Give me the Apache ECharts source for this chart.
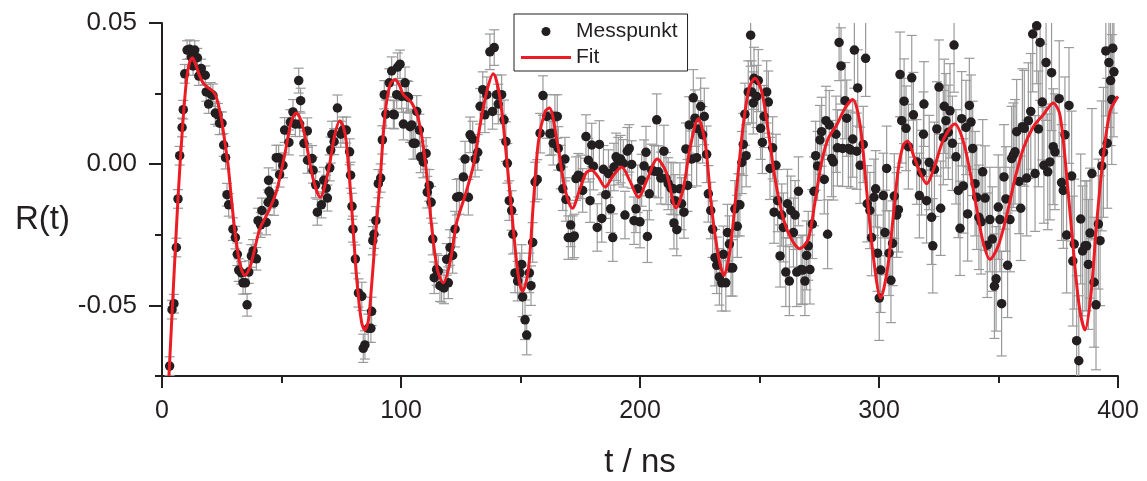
<!DOCTYPE html>
<html><head><meta charset="utf-8">
<script src="https://cdn.jsdelivr.net/npm/echarts@6/dist/echarts.min.js"></script>
<style>html,body{margin:0;padding:0;background:#fff}#c{width:1147px;height:481px}</style>
</head><body><div id="c"></div>
<script>
// ---- data ----
const xTickValues = [0, 100, 200, 300, 400];
const yTickValues = [-0.05, 0, 0.05];
const yTickLabels = ['-0.05', '0.00', '0.05'];
const yMinorTickValues = [-0.075, -0.025, 0.025];
const xTitle = 't / ns';
const yTitle = 'R(t)';
const seriesNames = ['Messpunkt', 'Fit'];

// measured points: [t (ns), R(t), error half-length]
const measured = [
[3.2,-0.0715,0.0033],[4.2,-0.0515,0.0033],[5.0,-0.0494,0.0033],[6.0,-0.0295,0.0033],[6.7,-0.0123,0.0033],
[7.4,0.0030,0.0033],[8.4,0.0130,0.0033],[8.9,0.0193,0.0033],[9.5,0.0320,0.0033],[10.5,0.0404,0.0033],
[11.6,0.0407,0.0033],[12.3,0.0380,0.0033],[13.0,0.0348,0.0033],[13.7,0.0404,0.0033],[14.8,0.0377,0.0033],
[15.4,0.0312,0.0033],[16.4,0.0339,0.0033],[18.1,0.0315,0.0033],[18.5,0.0256,0.0033],[19.5,0.0213,0.0033],
[20.4,0.0249,0.0040],[21.3,0.0244,0.0040],[22.3,0.0181,0.0040],[23.4,0.0175,0.0040],[24.1,0.0145,0.0040],
[25.1,0.0145,0.0040],[25.8,0.0068,0.0040],[26.6,0.0023,0.0040],[27.2,-0.0108,0.0040],[27.9,-0.0144,0.0040],
[29.7,-0.0230,0.0040],[30.7,-0.0260,0.0040],[31.5,-0.0319,0.0040],[32.1,-0.0375,0.0040],[33.2,-0.0385,0.0040],
[33.9,-0.0420,0.0040],[34.9,-0.0420,0.0040],[35.6,-0.0498,0.0040],[36.3,-0.0382,0.0040],[37.4,-0.0325,0.0040],
[38.1,-0.0307,0.0040],[39.5,-0.0335,0.0040],[40.2,-0.0200,0.0044],[41.3,-0.0215,0.0044],[41.8,-0.0164,0.0044],
[43.6,-0.0206,0.0044],[44.4,-0.0135,0.0044],[44.6,-0.0057,0.0044],[44.8,-0.0096,0.0044],[45.7,-0.0111,0.0044],
[46.9,-0.0137,0.0044],[47.8,0.0023,0.0044],[48.8,0.0023,0.0044],[49.2,-0.0037,0.0044],[50.6,-0.0004,0.0044],
[51.3,0.0121,0.0044],[53.1,0.0077,0.0044],[53.7,0.0149,0.0044],[54.8,0.0185,0.0044],[55.8,0.0142,0.0044],
[57.2,0.0296,0.0044],[57.6,0.0142,0.0044],[58.0,0.0225,0.0044],[59.4,0.0074,0.0044],[60.8,0.0118,0.0046],
[60.9,0.0014,0.0046],[62.8,0.0020,0.0046],[63.2,-0.0021,0.0046],[64.3,-0.0073,0.0046],[65.0,-0.0170,0.0046],
[66.7,-0.0144,0.0046],[67.7,-0.0057,0.0046],[68.7,-0.0085,0.0046],[69.2,-0.0120,0.0046],[70.2,-0.0013,0.0046],
[70.6,0.0050,0.0046],[71.1,0.0106,0.0046],[72.0,0.0080,0.0046],[73.4,0.0199,0.0046],[74.8,0.0106,0.0046],
[75.7,0.0121,0.0046],[77.1,0.0121,0.0046],[78.5,0.0044,0.0046],[78.9,-0.0039,0.0046],[79.5,-0.0149,0.0046],
[79.9,-0.0230,0.0046],[80.9,-0.0336,0.0050],[82.2,-0.0456,0.0050],[83.6,-0.0468,0.0050],[84.2,-0.0652,0.0050],
[84.9,-0.0640,0.0050],[86.3,-0.0581,0.0050],[87.4,-0.0581,0.0050],[87.7,-0.0521,0.0050],[88.2,-0.0271,0.0050],
[88.7,-0.0248,0.0050],[89.5,-0.0200,0.0050],[90.5,-0.0069,0.0050],[91.5,-0.0049,0.0050],[92.2,0.0086,0.0050],
[93.0,0.0246,0.0050],[93.7,0.0177,0.0050],[95.1,0.0288,0.0050],[96.1,0.0330,0.0050],[96.8,0.0177,0.0050],
[97.2,0.0175,0.0050],[98.2,0.0246,0.0050],[98.6,0.0344,0.0050],[99.6,0.0354,0.0050],[100.3,0.0240,0.0056],
[101.0,0.0142,0.0056],[101.7,0.0288,0.0056],[102.4,0.0240,0.0056],[103.1,0.0237,0.0056],[103.8,0.0133,0.0056],
[104.5,0.0139,0.0056],[105.1,0.0074,0.0056],[105.9,0.0074,0.0056],[106.6,0.0187,0.0056],[107.7,0.0121,0.0056],
[108.2,0.0026,0.0056],[109.3,0.0008,0.0056],[110.5,0.0038,0.0056],[111.0,-0.0099,0.0056],[111.8,-0.0075,0.0056],
[112.6,-0.0135,0.0056],[113.3,-0.0265,0.0056],[113.9,-0.0402,0.0056],[114.9,-0.0373,0.0056],[115.6,-0.0379,0.0056],
[116.3,-0.0430,0.0056],[117.0,-0.0432,0.0056],[118.0,-0.0438,0.0056],[119.1,-0.0337,0.0056],[119.8,-0.0420,0.0056],
[120.5,-0.0295,0.0063],[121.6,-0.0323,0.0063],[122.6,-0.0230,0.0063],[123.3,-0.0117,0.0063],[124.4,-0.0114,0.0063],
[126.1,-0.0045,0.0063],[126.8,0.0018,0.0063],[128.2,-0.0117,0.0063],[128.9,0.0104,0.0063],[130.0,0.0089,0.0063],
[131.0,0.0018,0.0063],[132.1,0.0042,0.0063],[133.1,0.0205,0.0063],[134.2,0.0264,0.0063],[135.1,0.0175,0.0063],
[135.9,0.0246,0.0063],[137.2,0.0398,0.0063],[138.3,0.0187,0.0063],[139.0,0.0413,0.0063],[140.0,0.0246,0.0070],
[140.7,0.0213,0.0070],[142.1,0.0246,0.0070],[143.1,0.0157,0.0070],[143.9,0.0080,0.0070],[144.5,0.0003,0.0070],
[145.3,-0.0129,0.0070],[146.3,-0.0164,0.0070],[146.8,-0.0248,0.0070],[147.7,-0.0385,0.0070],[148.8,-0.0414,0.0070],
[149.8,-0.0385,0.0070],[150.5,-0.0355,0.0070],[150.9,-0.0470,0.0070],[151.9,-0.0551,0.0070],[152.6,-0.0605,0.0070],
[153.7,-0.0385,0.0070],[154.4,-0.0430,0.0070],[155.1,-0.0277,0.0070],[156.1,-0.0063,0.0070],[157.0,-0.0054,0.0070],
[158.2,0.0110,0.0070],[159.4,0.0243,0.0070],[161.0,0.0169,0.0077],[162.3,0.0108,0.0077],[163.1,0.0110,0.0077],
[163.7,0.0074,0.0077],[164.4,0.0169,0.0077],[165.4,0.0169,0.0077],[165.8,0.0056,0.0077],[166.8,-0.0010,0.0077],
[167.7,-0.0087,0.0077],[168.6,0.0018,0.0077],[169.0,-0.0125,0.0077],[170.0,-0.0260,0.0077],[171.0,-0.0215,0.0077],
[171.8,-0.0260,0.0077],[172.5,-0.0254,0.0077],[173.2,-0.0051,0.0077],[174.2,-0.0039,0.0077],[175.2,-0.0045,0.0077],
[176.0,-0.0093,0.0077],[177.4,0.0098,0.0077],[178.4,0.0014,0.0077],[179.1,-0.0129,0.0077],[179.8,0.0068,0.0077],
[180.5,-0.0007,0.0084],[182.1,-0.0224,0.0084],[183.0,0.0070,0.0084],[184.0,-0.0192,0.0084],[184.7,-0.0018,0.0084],
[185.7,-0.0108,0.0084],[186.8,-0.0033,0.0084],[187.7,-0.0158,0.0084],[188.6,-0.0260,0.0084],[189.1,-0.0010,0.0084],
[190.0,0.0026,0.0084],[190.9,0.0011,0.0084],[191.9,0.0018,0.0084],[193.0,0.0003,0.0084],[193.7,-0.0180,0.0084],
[194.7,0.0046,0.0084],[195.5,0.0056,0.0084],[196.5,-0.0001,0.0084],[197.5,-0.0200,0.0084],[198.3,-0.0158,0.0084],
[199.0,-0.0087,0.0084],[200.0,-0.0204,0.0092],[200.7,-0.0057,0.0092],[201.7,-0.0006,0.0092],[202.5,0.0042,0.0092],
[203.1,-0.0256,0.0092],[203.9,-0.0105,0.0092],[204.9,-0.0021,0.0092],[205.9,-0.0025,0.0092],[207.0,0.0157,0.0092],
[207.7,-0.0027,0.0092],[208.7,-0.0049,0.0092],[210.0,0.0046,0.0092],[210.9,-0.0051,0.0092],[211.8,-0.0069,0.0092],
[213.0,-0.0085,0.0092],[213.9,-0.0087,0.0092],[214.2,-0.0208,0.0092],[214.6,-0.0129,0.0092],[215.4,-0.0232,0.0092],
[216.7,-0.0087,0.0092],[217.4,-0.0140,0.0092],[218.4,-0.0170,0.0092],[219.2,0.0054,0.0092],[219.9,-0.0075,0.0092],
[220.6,0.0139,0.0100],[221.6,0.0018,0.0100],[222.3,0.0235,0.0100],[223.0,0.0163,0.0100],[223.7,0.0023,0.0100],
[224.4,0.0125,0.0100],[225.4,0.0205,0.0100],[226.2,0.0104,0.0100],[226.9,0.0169,0.0100],[227.9,0.0035,0.0100],
[228.6,-0.0105,0.0100],[229.6,-0.0164,0.0100],[230.4,-0.0230,0.0100],[231.4,-0.0331,0.0100],[232.1,-0.0358,0.0100],
[233.2,-0.0399,0.0100],[234.2,-0.0420,0.0100],[234.9,-0.0319,0.0100],[235.9,-0.0420,0.0100],[236.6,-0.0242,0.0100],
[237.4,-0.0283,0.0100],[238.1,-0.0367,0.0100],[238.8,-0.0367,0.0100],[239.7,-0.0158,0.0100],[240.7,-0.0220,0.0110],
[241.1,-0.0144,0.0110],[241.8,-0.0144,0.0110],[242.6,0.0006,0.0110],[243.2,0.0070,0.0110],[243.9,0.0177,0.0110],
[244.4,0.0030,0.0110],[245.3,0.0256,0.0110],[246.3,0.0457,0.0110],[246.7,0.0256,0.0110],[247.4,0.0217,0.0110],
[247.7,0.0304,0.0110],[248.8,0.0240,0.0110],[249.5,0.0296,0.0110],[250.5,0.0127,0.0110],[251.2,0.0077,0.0110],
[251.9,0.0169,0.0110],[253.0,0.0256,0.0110],[253.7,0.0220,0.0110],[254.4,-0.0015,0.0110],[255.5,0.0058,0.0110],
[256.1,-0.0170,0.0110],[256.9,-0.0004,0.0110],[257.6,-0.0129,0.0110],[258.6,-0.0325,0.0110],[259.3,-0.0180,0.0110],
[260.0,-0.0224,0.0122],[261.0,-0.0382,0.0122],[261.7,-0.0140,0.0122],[262.5,-0.0414,0.0122],[263.1,-0.0164,0.0122],
[264.2,-0.0242,0.0122],[264.9,-0.0180,0.0122],[265.6,-0.0382,0.0122],[266.3,-0.0096,0.0122],[267.4,-0.0373,0.0122],
[268.1,-0.0375,0.0122],[269.0,-0.0414,0.0122],[269.7,-0.0323,0.0122],[270.4,-0.0289,0.0122],[271.1,-0.0373,0.0122],
[272.1,-0.0212,0.0122],[272.8,-0.0096,0.0122],[273.5,0.0030,0.0122],[274.3,-0.0006,0.0122],[275.3,0.0086,0.0122],
[276.0,0.0115,0.0122],[277.1,-0.0054,0.0122],[277.8,0.0154,0.0122],[278.5,-0.0248,0.0122],[279.2,0.0139,0.0122],
[280.2,0.0020,0.0135],[280.9,0.0008,0.0135],[282.0,0.0106,0.0135],[282.6,0.0058,0.0135],[283.3,0.0431,0.0135],
[284.1,0.0348,0.0135],[284.8,0.0056,0.0135],[285.8,0.0225,0.0135],[286.5,0.0163,0.0135],[287.2,0.0056,0.0135],
[288.2,0.0050,0.0135],[289.0,0.0089,0.0135],[289.7,0.0404,0.0135],[290.7,0.0046,0.0135],[291.1,0.0270,0.0135],
[292.1,-0.0004,0.0135],[293.4,0.0070,0.0135],[294.4,0.0375,0.0135],[295.1,-0.0140,0.0135],[296.2,-0.0164,0.0135],
[296.9,-0.0260,0.0135],[297.9,-0.0117,0.0135],[298.6,-0.0087,0.0135],[299.4,-0.0315,0.0135],[300.1,-0.0474,0.0150],
[300.7,-0.0375,0.0150],[301.8,-0.0111,0.0150],[302.5,-0.0242,0.0150],[303.2,-0.0015,0.0150],[304.2,-0.0315,0.0150],
[305.0,-0.0411,0.0150],[305.7,-0.0280,0.0150],[306.4,-0.0113,0.0150],[307.4,-0.0180,0.0150],[308.1,-0.0161,0.0150],
[308.8,0.0318,0.0150],[309.5,0.0154,0.0150],[310.5,0.0223,0.0150],[311.3,0.0127,0.0150],[312.3,0.0062,0.0150],
[313.7,0.0306,0.0150],[314.4,0.0175,0.0150],[315.8,0.0008,0.0150],[316.9,-0.0111,0.0150],[317.8,-0.0030,0.0150],
[318.6,0.0106,0.0150],[318.8,0.0213,0.0150],[319.9,-0.0129,0.0150],[321.0,0.0006,0.0167],[322.0,-0.0188,0.0167],
[322.5,-0.0289,0.0167],[323.2,-0.0018,0.0167],[324.2,0.0125,0.0167],[325.1,0.0273,0.0167],[325.8,-0.0156,0.0167],
[326.9,0.0094,0.0167],[327.3,0.0205,0.0167],[328.0,0.0154,0.0167],[329.0,0.0113,0.0167],[329.7,0.0189,0.0167],
[330.7,0.0074,0.0167],[331.4,0.0422,0.0167],[332.2,0.0026,0.0167],[333.2,-0.0093,0.0167],[333.9,-0.0227,0.0167],
[334.6,0.0161,0.0167],[335.3,-0.0077,0.0167],[336.4,0.0130,0.0167],[337.1,-0.0176,0.0167],[337.8,0.0208,0.0167],
[338.5,0.0149,0.0167],[339.2,0.0056,0.0167],[340.2,-0.0069,0.0185],[340.9,-0.0117,0.0185],[341.8,-0.0188,0.0185],
[342.7,-0.0204,0.0185],[343.4,-0.0027,0.0185],[344.4,-0.0120,0.0185],[345.3,-0.0287,0.0185],[346.4,-0.0196,0.0185],
[347.4,-0.0265,0.0185],[348.3,-0.0432,0.0185],[349.0,-0.0406,0.0185],[349.9,-0.0152,0.0185],[350.6,-0.0196,0.0185],
[351.3,-0.0494,0.0185],[352.3,-0.0045,0.0185],[353.1,-0.0123,0.0185],[353.8,-0.0358,0.0185],[354.8,-0.0196,0.0185],
[355.5,0.0020,0.0185],[356.2,0.0032,0.0185],[356.9,0.0044,0.0185],[357.6,0.0115,0.0185],[358.6,-0.0061,0.0185],
[359.3,-0.0156,0.0185],[360.0,0.0133,0.0205],[360.8,0.0127,0.0205],[361.8,-0.0049,0.0205],[362.5,0.0154,0.0205],
[363.5,0.0187,0.0205],[364.3,0.0461,0.0205],[365.3,-0.0033,0.0205],[366.0,0.0490,0.0205],[366.7,0.0125,0.0205],
[367.4,0.0431,0.0205],[368.3,0.0220,0.0205],[369.0,-0.0004,0.0205],[369.9,0.0360,0.0205],[370.6,-0.0027,0.0205],
[371.5,0.0008,0.0205],[372.2,0.0324,0.0205],[372.9,0.0062,0.0205],[373.6,0.0044,0.0205],[375.4,0.0232,0.0205],
[376.4,-0.0065,0.0205],[377.1,-0.0093,0.0205],[377.8,0.0104,0.0205],[378.5,-0.0251,0.0205],[379.5,0.0208,0.0205],
[380.6,-0.0042,0.0230],[381.1,-0.0343,0.0230],[381.7,-0.0283,0.0230],[382.7,-0.0625,0.0230],[383.6,-0.0696,0.0230],
[384.4,-0.0194,0.0230],[385.2,-0.0307,0.0230],[386.2,-0.0289,0.0230],[386.9,-0.0289,0.0230],[387.6,-0.0355,0.0230],
[388.3,-0.0244,0.0230],[389.1,-0.0033,0.0230],[390.0,-0.0418,0.0230],[390.8,-0.0498,0.0230],[391.8,-0.0212,0.0230],
[392.5,-0.0271,0.0230],[393.2,-0.0006,0.0230],[393.9,0.0042,0.0230],[394.9,0.0401,0.0230],[395.5,0.0074,0.0230],
[396.2,0.0360,0.0230],[396.9,0.0296,0.0230],[397.4,0.0229,0.0230],[397.8,0.0411,0.0230],[398.3,0.0327,0.0230]
];

// fit curve: [t (ns), R(t)]
const fit = [
[2.9,-0.075],[4.8,-0.043],[6.7,-0.012],[8.5,0.012],[10.2,0.0294],[11.5,0.0360],[12.7,0.0377],[14.2,0.0350],
[15.8,0.0312],[17.5,0.0284],[19.2,0.0272],[20.8,0.0262],[22.3,0.0246],[23.6,0.0210],[24.8,0.0163],[26.2,0.0085],
[27.6,0.0],[29.0,-0.0118],[30.4,-0.023],[32.5,-0.0349],[34.6,-0.0394],[36.0,-0.0380],[37.4,-0.0349],[40.9,-0.023],
[44.4,-0.017],[47.8,-0.0099],[51.3,0.0032],[54.1,0.0151],[56.2,0.0181],[57.9,0.0160],[59.7,0.0104],[63.2,-0.0051],
[66.2,-0.0117],[69.5,-0.0027],[72.3,0.0104],[74.4,0.0154],[75.8,0.0135],[77.1,0.008],[79.2,-0.0135],[81.5,-0.0408],
[83.5,-0.0560],[84.9,-0.0587],[86.2,-0.0560],[87.0,-0.0504],[89.1,-0.0277],[91.2,-0.0063],[93.3,0.0175],[95.4,0.0282],
[97.5,0.030],[99.3,0.0280],[101.0,0.0246],[104.5,0.0217],[107.2,0.0163],[110.0,0.002],[112.8,-0.0218],[115.2,-0.0373],
[117.7,-0.042],[120.5,-0.0349],[123.3,-0.0206],[126.8,-0.0111],[130.3,-0.0004],[133.1,0.0139],[135.9,0.0258],[138.6,0.032],
[141.4,0.0235],[144.2,0.002],[147.0,-0.023],[149.1,-0.0396],[150.9,-0.045],[153.3,-0.0373],[155.4,-0.0135],[157.5,0.008],
[160.3,0.0187],[162.1,0.0199],[165.1,0.0092],[168.6,-0.0087],[171.7,-0.0156],[174.9,-0.0087],[177.5,-0.0030],[179.8,-0.0021],
[182.5,-0.0045],[185.4,-0.0081],[188.8,-0.0040],[192.3,-0.001],[195.8,-0.0060],[199.3,-0.0117],[203.2,-0.0050],[207.2,0.0018],
[210.9,-0.0027],[215.1,-0.0155],[218.1,-0.0087],[220.9,0.0056],[224.4,0.0161],[227.2,0.008],[230.0,-0.0158],[232.8,-0.0325],
[235.1,-0.0394],[237.7,-0.0301],[240.4,-0.0087],[243.2,0.0139],[245.7,0.027],[248.1,0.0304],[250.9,0.0258],[253.7,0.0115],
[256.5,-0.0051],[260.0,-0.0194],[263.5,-0.0268],[266.9,-0.0299],[270.4,-0.0265],[273.2,-0.0135],[276.0,0.0008],[278.8,0.0092],
[282.3,0.0139],[285.8,0.0199],[289.0,0.0229],[292.1,0.0139],[294.9,-0.0099],[297.6,-0.0325],[300.7,-0.0474],[303.5,-0.0373],
[306.0,-0.0182],[308.1,-0.0015],[310.2,0.0068],[312.0,0.0082],[314.4,0.0032],[317.2,-0.0030],[319.9,-0.0069],[323.4,-0.0004],
[326.9,0.0086],[331.8,0.0142],[335.3,0.008],[338.1,-0.0027],[340.9,-0.0158],[343.6,-0.0277],[346.4,-0.0337],[349.9,-0.0289],
[353.4,-0.0182],[356.9,-0.0051],[360.4,0.0056],[364.6,0.0133],[368.7,0.0175],[372.9,0.0217],[375.7,0.0175],[378.5,-0.0039],
[381.3,-0.0301],[383.8,-0.0504],[386.2,-0.0587],[388.6,-0.0468],[391.1,-0.0206],[393.9,0.0032],[396.7,0.0187],[400.0,0.024]
];

// ---- chart ----
const FONT = "'Liberation Sans', Arial, Helvetica, sans-serif";
const INK = '#231f20';
const RED = '#ed1c24';
const chart = echarts.init(document.getElementById('c'), null, {renderer: 'canvas'});

function labelFor(v) {
  const i = yTickValues.findIndex(x => Math.abs(x - v) < 1e-9);
  return i >= 0 ? yTickLabels[i] : '';
}

chart.setOption({
  animation: false,
  backgroundColor: '#ffffff',
  grid: {left: 162, right: 29, top: 23, bottom: 105, containLabel: false, outerBoundsMode: 'none'},
  legend: {
    orient: 'vertical', left: 514, top: 14,
    padding: [7, 10, 3, 7], itemGap: 5,
    itemWidth: 50, itemHeight: 9,
    backgroundColor: '#ffffff', borderColor: INK, borderWidth: 1, borderRadius: 0,
    textStyle: {fontFamily: FONT, fontSize: 21, color: INK},
    data: [
      {name: seriesNames[0], icon: 'circle'},
      {name: seriesNames[1], icon: 'path://M0,0 L50,0 L50,3 L0,3 Z', itemStyle: {color: RED, borderWidth: 0}}
    ],
    z: 10
  },
  xAxis: {
    type: 'value', min: xTickValues[0], max: xTickValues[xTickValues.length - 1], interval: 100,
    name: xTitle, nameLocation: 'middle', nameGap: 70,
    nameTextStyle: {fontFamily: FONT, fontSize: 33, color: INK},
    axisLine: {onZero: false, lineStyle: {color: INK, width: 2}},
    axisTick: {show: true, inside: false, length: 12, lineStyle: {color: INK, width: 2}},
    minorTick: {show: true, splitNumber: 2, length: 7, lineStyle: {color: INK, width: 2}},
    splitLine: {show: false}, minorSplitLine: {show: false},
    axisLabel: {fontFamily: FONT, fontSize: 25, color: INK, margin: 23}
  },
  yAxis: [{
    type: 'value', min: -0.075, max: 0.05, position: 'left',
    name: yTitle, nameLocation: 'middle', nameGap: 92, nameRotate: 0,
    nameTextStyle: {fontFamily: FONT, fontSize: 33, color: INK, verticalAlign: 'top', lineHeight: 40},
    axisLine: {onZero: false, lineStyle: {color: INK, width: 2}},
    axisTick: {show: true, inside: false, length: 13, customValues: yTickValues, lineStyle: {color: INK, width: 2}},
    axisLabel: {customValues: yTickValues, formatter: labelFor, fontFamily: FONT, fontSize: 26, color: INK, margin: 25},
    splitLine: {show: false}
  }, {
    type: 'value', min: -0.075, max: 0.05, position: 'left',
    axisLine: {show: false},
    axisTick: {show: true, inside: false, length: 7, customValues: yMinorTickValues, lineStyle: {color: INK, width: 2}},
    axisLabel: {show: false},
    splitLine: {show: false}
  }],
  series: [{
    type: 'custom',
    name: 'errors',
    data: measured,
    encode: {x: 0, y: 1},
    clip: true,
    z: 2,
    silent: true,
    renderItem: function (params, api) {
      const t = api.value(0), r = api.value(1), e = api.value(2);
      const top = api.coord([t, r + e]);
      const bot = api.coord([t, r - e]);
      const hw = 5;
      const style = {stroke: '#9a9a9a', lineWidth: 1.2, fill: null};
      return {
        type: 'group',
        children: [
          {type: 'line', shape: {x1: top[0], y1: top[1], x2: bot[0], y2: bot[1]}, style: style},
          {type: 'line', shape: {x1: top[0] - hw, y1: top[1], x2: top[0] + hw, y2: top[1]}, style: style},
          {type: 'line', shape: {x1: bot[0] - hw, y1: bot[1], x2: bot[0] + hw, y2: bot[1]}, style: style}
        ]
      };
    }
  }, {
    type: 'scatter',
    name: seriesNames[0],
    data: measured.map(p => [p[0], p[1]]),
    symbol: 'circle', symbolSize: 9.5,
    itemStyle: {color: INK, opacity: 1},
    z: 3
  }, {
    type: 'line',
    name: seriesNames[1],
    data: fit,
    showSymbol: false, symbol: 'none',
    smooth: 0.3,
    clip: true,
    lineStyle: {color: RED, width: 3},
    itemStyle: {color: RED},
    z: 4
  }]
});
</script>
</body></html>
